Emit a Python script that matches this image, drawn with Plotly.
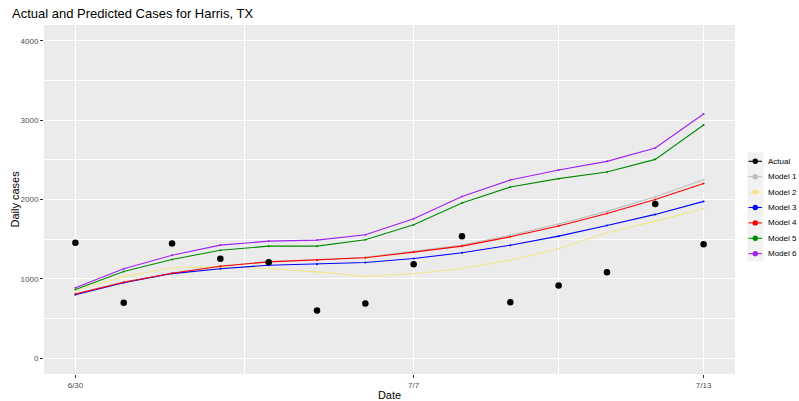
import plotly.graph_objects as go

dates = ["2020-06-30", "2020-07-01", "2020-07-02", "2020-07-03", "2020-07-04",
         "2020-07-05", "2020-07-06", "2020-07-07", "2020-07-08", "2020-07-09",
         "2020-07-10", "2020-07-11", "2020-07-12", "2020-07-13"]

actual = [1455, 697, 1445, 1252, 1210, 600, 688, 1185, 1538, 705, 915, 1083, 1942, 1437]
model1 = [812, 958, 1072, 1162, 1218, 1240, 1272, 1344, 1425, 1548, 1690, 1850, 2035, 2250]
model2 = [855, 1028, 1139, 1151, 1130, 1088, 1033, 1063, 1130, 1237, 1378, 1581, 1727, 1884]
model3 = [800, 950, 1066, 1126, 1172, 1185, 1206, 1256, 1328, 1423, 1538, 1673, 1812, 1976]
model4 = [808, 956, 1071, 1159, 1214, 1235, 1265, 1336, 1412, 1530, 1665, 1824, 2001, 2203]
model5 = [865, 1092, 1244, 1361, 1412, 1412, 1492, 1681, 1955, 2157, 2263, 2346, 2506, 2939]
model6 = [886, 1126, 1298, 1425, 1475, 1488, 1555, 1757, 2039, 2245, 2371, 2481, 2649, 3078]

series_names = ["Model 1", "Model 2", "Model 3", "Model 4", "Model 5", "Model 6"]
series_values = [model1, model2, model3, model4, model5, model6]
series_colors = ["#BEBEBE", "#F0E68C", "#0000FF", "#FF0000", "#008B00", "#A020F0"]

x_tickvals = ["2020-06-30", "2020-07-07", "2020-07-13"]
x_ticktext = ["6/30", "7/7", "7/13"]
x_minorvals = ["2020-07-03 12:00", "2020-07-10"]

FONT = "Arial, Liberation Sans, sans-serif"

# plot-area geometry in pixels (fixed margins)
W, H = 799, 401
ML, MR, MT, MB = 44, 64, 25, 27
PW, PH = W - ML - MR, H - MT - MB


def px_x(px):
    return (px - ML) / PW


def px_y(py):
    return (H - MB - py) / PH


fig = go.Figure()

for name, vals, col in zip(series_names, series_values, series_colors):
    fig.add_trace(go.Scatter(
        x=dates, y=vals, mode="lines+markers", name=name,
        line=dict(color=col, width=1.1),
        marker=dict(color=col, size=2),
        showlegend=False))

fig.add_trace(go.Scatter(
    x=dates, y=actual, mode="markers", name="Actual",
    marker=dict(color="black", size=6.5), showlegend=False))

# legend drawn as key glyphs (ggplot-style) to the right of the panel
legend_names = ["Actual"] + series_names
legend_colors = ["black"] + series_colors
shapes = [dict(type="rect", xref="paper", yref="paper",
               x0=px_x(747.3), x1=px_x(763.5), y0=px_y(261), y1=px_y(152.5),
               fillcolor="#F2F2F2", line=dict(width=0), layer="below")]
annotations = []
for i, (name, col) in enumerate(zip(legend_names, legend_colors)):
    yc = 161.3 + 15.4 * i
    shapes.append(dict(type="line", xref="paper", yref="paper",
                       x0=px_x(748.5), x1=px_x(762), y0=px_y(yc), y1=px_y(yc),
                       line=dict(color=col, width=1.1)))
    shapes.append(dict(type="circle", xref="paper", yref="paper",
                       xsizemode="pixel", ysizemode="pixel",
                       xanchor=px_x(755.3), yanchor=px_y(yc),
                       x0=-2.7, x1=2.7, y0=-2.7, y1=2.7,
                       fillcolor=col, line=dict(width=0)))
    annotations.append(dict(text=name, xref="paper", yref="paper",
                            x=px_x(766), y=px_y(yc), xanchor="left", yanchor="middle",
                            showarrow=False,
                            font=dict(family=FONT, size=8, color="black")))

# y-axis title placed as in the reference
annotations.append(dict(text="Daily cases", xref="paper", yref="paper",
                        x=px_x(14), y=0.5, xanchor="center", yanchor="middle",
                        textangle=-90, showarrow=False,
                        font=dict(family=FONT, size=11, color="black")))

fig.update_layout(
    width=W, height=H,
    margin=dict(l=ML, r=MR, t=MT, b=MB, autoexpand=False),
    paper_bgcolor="white", plot_bgcolor="#EBEBEB",
    font=dict(family=FONT, size=9, color="#4D4D4D"),
    showlegend=False,
    title=dict(text="Actual and Predicted Cases for Harris, TX",
               x=12 / W, xref="container", xanchor="left",
               y=1 - 13 / H, yref="container", yanchor="middle",
               font=dict(family=FONT, size=13, color="black")),
    shapes=shapes,
    annotations=annotations,
)

fig.update_xaxes(
    type="date", automargin=False,
    range=["2020-06-29 08:24", "2020-07-13 15:36"],
    tickmode="array", tickvals=x_tickvals, ticktext=x_ticktext,
    ticks="outside", ticklen=3, tickcolor="#333333", tickwidth=1,
    showgrid=True, gridcolor="white", gridwidth=1.1,
    minor=dict(tickmode="array", tickvals=x_minorvals, showgrid=True,
               gridcolor="white", gridwidth=0.5, ticks=""),
    zeroline=False, showline=False,
    tickfont=dict(family=FONT, size=8, color="#4D4D4D"),
    title=dict(text="Date", font=dict(family=FONT, size=11, color="black"),
               standoff=3),
)

fig.update_yaxes(
    automargin=False,
    range=[-200, 4200],
    tickmode="array", tickvals=[0, 1000, 2000, 3000, 4000],
    ticks="outside", ticklen=3, tickcolor="#333333", tickwidth=1,
    showgrid=True, gridcolor="white", gridwidth=1.1,
    minor=dict(tickmode="array", tickvals=[500, 1500, 2500, 3500], showgrid=True,
               gridcolor="white", gridwidth=0.5, ticks=""),
    zeroline=False, showline=False,
    tickfont=dict(family=FONT, size=8, color="#4D4D4D"),
)

fig.write_html("out.html",
               config={"displayModeBar": False},
               post_script="document.body.style.margin='0';document.body.style.overflow='hidden';")
